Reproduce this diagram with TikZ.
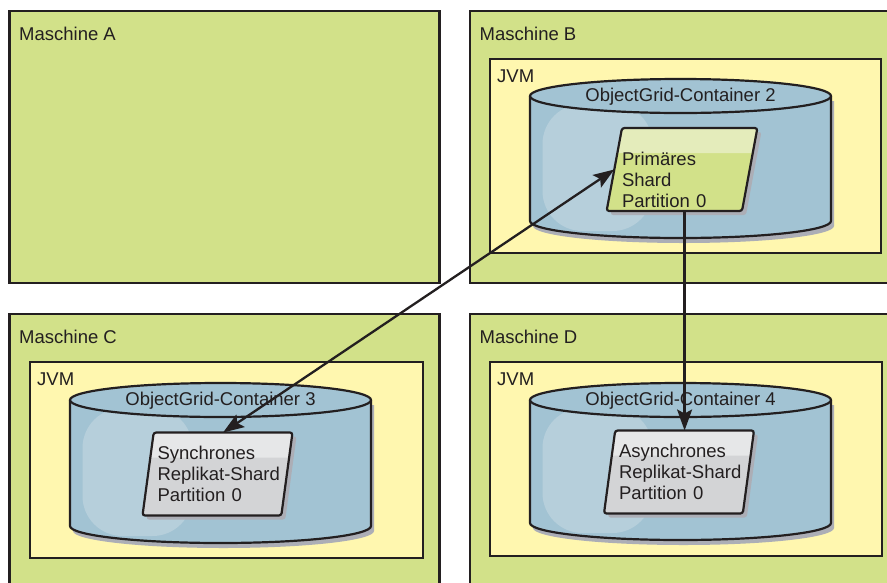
\documentclass[tikz,border=0pt]{standalone}
\usepackage{fontspec}
\setmainfont{Liberation Sans}
\usetikzlibrary{arrows.meta,shapes.geometric,shadows}
\definecolor{maschgreen}{RGB}{210,225,137}
\definecolor{jvmyellow}{RGB}{255,247,175}
\definecolor{cylblue}{RGB}{162,195,211}
\definecolor{cylhigh}{RGB}{182,207,219}
\definecolor{shadowgray}{RGB}{172,174,182}
\definecolor{shardgray}{RGB}{211,212,214}
\definecolor{shardband}{RGB}{230,231,232}
\definecolor{primband}{RGB}{228,236,187}
\definecolor{inkgray}{RGB}{35,31,32}

\begin{document}
\begin{tikzpicture}[x=1pt,y=-1pt,
  txt/.style={font=\fontsize{18.5}{21}\selectfont, text=inkgray, inner sep=0pt},
  maschine/.style={draw=inkgray, line width=2.8pt, fill=maschgreen, minimum width=430pt, inner sep=0pt, outer sep=0pt},
  jvm/.style={draw=inkgray, line width=2.2pt, fill=jvmyellow, inner sep=0pt, outer sep=0pt},
  shard/.style={txt, trapezium, trapezium left angle=79, trapezium right angle=101,
    trapezium stretches body, minimum width=150pt, minimum height=83pt,
    inner xsep=0pt, inner ysep=1pt, outer sep=0pt, draw=inkgray, line width=2.2pt,
    rounded corners=2.5pt, text width=120pt, align=left,
    general shadow={fill=shadowgray, shadow xshift=4pt, shadow yshift=-4pt}},
  band/.style={path picture={\fill[#1] (path picture bounding box.north west)
    rectangle ([yshift=-25pt]path picture bounding box.north east);}},
  arr/.style={draw=inkgray, line width=2.3pt},
  rtip/.tip={Stealth[length=21pt, width=15pt, inset=4pt]}]
  \fill[white] (0,0) rectangle (887,582);
  \useasboundingbox (0,0) rectangle (887,582);
  \clip (0,0) rectangle (887,582);

  % machines
  \node[maschine, minimum height=272pt] (maschA) at (224.5,147) {};
  \node[maschine, minimum height=272pt] (maschB) at (685,147) {};
  \node[maschine, minimum height=280pt] (maschC) at (224.5,454) {};
  \node[maschine, minimum height=280pt] (maschD) at (685,454) {};
  \foreach \m in {A,B,C,D}
    \node[txt, anchor=base west] (lab\m) at ([xshift=9.5pt,yshift=-29pt]masch\m.north west) {Maschine \m};

  % JVMs
  \node[jvm, minimum width=391pt, minimum height=194pt] (jvmB) at (685.5,156) {};
  \node[jvm, minimum width=393pt, minimum height=196pt] (jvmC) at (226.5,460) {};
  \node[jvm, minimum width=392pt, minimum height=194pt] (jvmD) at (686,459) {};
  \foreach \j in {B,C,D}
    \node[txt, anchor=base west] (jvmlab\j) at ([xshift=7pt,yshift=-23pt]jvm\j.north west) {JVM};

  % containers
  \foreach \cx/\cy/\h/\nr in {680.5/96/125/2, 220.5/400/126/3, 680.5/400/123/4} {
    \fill[shadowgray] (\cx-147.5,\cy+5) -- (\cx-147.5,\cy+\h+5)
      arc[start angle=180, end angle=0, x radius=150.5, y radius=17] -- (\cx+153.5,\cy+5) -- cycle;
    \fill[cylblue] (\cx-150.5,\cy) -- (\cx-150.5,\cy+\h)
      arc[start angle=180, end angle=0, x radius=150.5, y radius=17] -- (\cx+150.5,\cy) -- cycle;
    \begin{scope}
      \clip (\cx-150.5,\cy) -- (\cx-150.5,\cy+\h)
        arc[start angle=180, end angle=0, x radius=150.5, y radius=17] -- (\cx+150.5,\cy) -- cycle;
      \fill[cylhigh, rounded corners=40pt] (\cx-138,\cy+8) rectangle (\cx-28,\cy+\h+10);
    \end{scope}
    \draw[inkgray, line width=2.2pt] (\cx-150.5,\cy) -- (\cx-150.5,\cy+\h)
      arc[start angle=180, end angle=0, x radius=150.5, y radius=17] -- (\cx+150.5,\cy);
    \filldraw[fill=cylblue, draw=inkgray, line width=2.2pt] (\cx,\cy) ellipse[x radius=150.5, y radius=17];
    \node[txt] (cont\nr) at (\cx,\cy+1) {ObjectGrid-Container \nr};
  }

  % shards
  \node[shard, fill=maschgreen, band=primband] (primary) at (682,169.5)
    {\rule{0pt}{35pt}Primäres\\Shard\\Partition 0};
  \node[shard, fill=shardgray, band=shardband] (sync) at (217.5,474)
    {Synchrones\\\mbox{Replikat-Shard}\\Partition 0};
  \node[shard, fill=shardgray, band=shardband] (async) at (679,472)
    {Asynchrones\\\mbox{Replikat-Shard}\\Partition 0};

  % replication
  \draw[arr, rtip-rtip] (sync.top side) -- (primary.left side);
  \draw[arr, -rtip] (primary.bottom side -| async.top side) -- (async.top side);
\end{tikzpicture}
\end{document}
